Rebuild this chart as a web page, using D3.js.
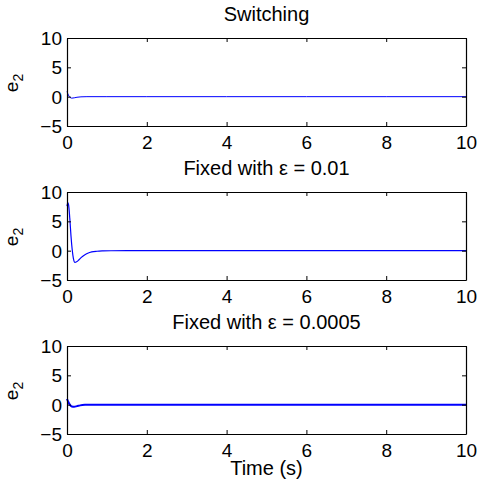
<!DOCTYPE html>
<html>
<head>
<meta charset="utf-8">
<script src="https://cdn.jsdelivr.net/npm/d3@7"></script>
<style>
  body { margin: 0; background: #fff; }
  text { font-family: "Liberation Sans", Arial, sans-serif; fill: #000; }
</style>
</head>
<body>
<div id="chart"></div>
<script>
// Data
var titles = ["Switching", "Fixed with \u03b5 = 0.01", "Fixed with \u03b5 = 0.0005"];
var xTicks = [0, 2, 4, 6, 8, 10];
var yTicks = [-5, 0, 5, 10];

var tSwitch = [0, 0.02, 0.05, 0.08, 0.12, 0.18, 0.25, 0.35, 0.5, 1, 2, 4, 6, 8, 10];
var eSwitch = [0.9, 0.5, 0.1, -0.15, -0.25, -0.2, -0.1, -0.03, 0, 0, 0, 0, 0, 0, 0];

var tFixed1 = [0, 0.02, 0.04, 0.07, 0.1, 0.13, 0.16, 0.2, 0.24, 0.3, 0.36, 0.44, 0.52, 0.62, 0.75, 0.9, 1.1, 1.5, 2, 4, 6, 8, 10];
var eFixed1 = [7.6, 8.2, 7.8, 5.5, 2.5, 0.2, -1.3, -2.0, -1.9, -1.55, -1.15, -0.75, -0.45, -0.22, -0.1, -0.04, -0.01, 0, 0, 0, 0, 0, 0];

var tFixed2 = [0, 0.03, 0.07, 0.12, 0.18, 0.25, 0.33, 0.45, 0.6, 1, 2, 4, 6, 8, 10];
var eFixed2 = [1.0, 0.5, 0.0, -0.3, -0.35, -0.25, -0.12, -0.03, 0, 0, 0, 0, 0, 0, 0];

var series = [
  { t: tSwitch, e: eSwitch, w: 1 },
  { t: tFixed1, e: eFixed1, w: 1.2 },
  { t: tFixed2, e: eFixed2, w: 2 }
];

var width = 478, height = 483;
var left = 67, right = 466;
var tops = [38, 192, 346];
var panelH = 88;

var svg = d3.select("#chart").append("svg")
  .attr("width", width)
  .attr("height", height);

var x = d3.scaleLinear().domain([0, 10]).range([left, right]);

series.forEach(function (s, i) {
  var y = d3.scaleLinear().domain([-5, 10]).range([tops[i] + panelH, tops[i]]);
  var g = svg.append("g");

  // curve
  var line = d3.line()
    .x(function (d, j) { return x(s.t[j]); })
    .y(function (d) { return y(d); })
    .curve(d3.curveMonotoneX);

  g.append("path")
    .datum(s.e)
    .attr("d", line)
    .attr("fill", "none")
    .attr("stroke", "#0000ff")
    .attr("stroke-width", s.w);

  // axes, ticks inward on all four sides
  var bottom = d3.axisBottom(x).tickValues(xTicks).tickSizeInner(-4).tickSizeOuter(0).tickPadding(10);
  var top = d3.axisTop(x).tickValues(xTicks).tickSizeInner(-4).tickSizeOuter(0).tickFormat("");
  var leftAx = d3.axisLeft(y).tickValues(yTicks).tickSizeInner(-4).tickSizeOuter(0).tickPadding(5)
    .tickFormat(function (d) { return d < 0 ? "\u2212" + Math.abs(d) : d; });
  var rightAx = d3.axisRight(y).tickValues(yTicks).tickSizeInner(-4).tickSizeOuter(0).tickFormat("");

  var gb = g.append("g").attr("transform", "translate(0," + (tops[i] + panelH) + ")").call(bottom);
  var gt = g.append("g").attr("transform", "translate(0," + tops[i] + ")").call(top);
  var gl = g.append("g").attr("transform", "translate(" + left + ",0)").call(leftAx);
  var gr = g.append("g").attr("transform", "translate(" + right + ",0)").call(rightAx);

  [gb, gt, gl, gr].forEach(function (a) {
    a.selectAll("path").attr("stroke", "#000").attr("stroke-width", 1.2);
    a.selectAll("line").attr("stroke", "#000").attr("stroke-width", 1);
    a.selectAll("text").style("font-size", "19px").attr("fill", "#000");
  });
  gl.selectAll("text").attr("dy", "0.35em");
  gb.selectAll("text").attr("dy", "0.71em");

  // title
  g.append("text")
    .attr("x", (left + right) / 2)
    .attr("y", tops[i] - 17)
    .attr("text-anchor", "middle")
    .style("font-size", "20px")
    .text(titles[i]);

  // y label
  var yl = g.append("text")
    .attr("transform", "translate(18," + (tops[i] + panelH / 2 + 1) + ") rotate(-90)")
    .attr("text-anchor", "middle")
    .style("font-size", "19px");
  yl.append("tspan").text("e");
  yl.append("tspan").attr("dy", 5).style("font-size", "14px").text("2");
});

svg.append("text")
  .attr("x", (left + right) / 2)
  .attr("y", 475)
  .attr("text-anchor", "middle")
  .style("font-size", "20px")
  .text("Time (s)");
</script>
</body>
</html>
